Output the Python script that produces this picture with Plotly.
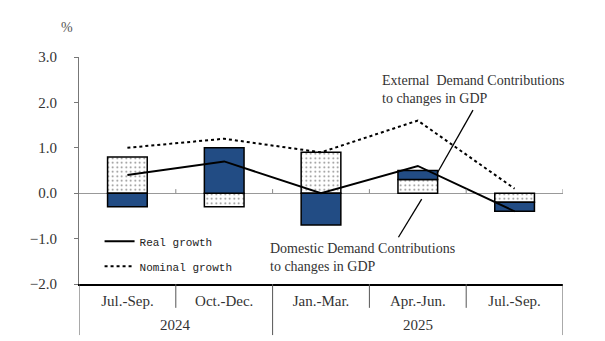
import plotly.graph_objects as go

quarters = ["Jul.-Sep.", "Oct.-Dec.", "Jan.-Mar.", "Apr.-Jun.", "Jul.-Sep."]
years = ["2024", "2025"]
year_spans = [(0, 1), (2, 4)]

domestic = [0.8, -0.3, 0.9, 0.3, -0.2]
external = [-0.3, 1.0, -0.7, 0.2, -0.2]
real_growth = [0.4, 0.7, 0.0, 0.6, -0.4]
nominal_growth = [1.0, 1.2, 0.9, 1.6, 0.1]

y_ticks = [3.0, 2.0, 1.0, 0.0, -1.0, -2.0]

BLUE = "#224C84"
LABEL_FONT = dict(family="Liberation Serif", size=15, color="#333333")
NOTE_FONT = dict(family="Liberation Serif", size=14, color="#333333")

x = list(range(len(quarters)))

fig = go.Figure()
fig.add_trace(go.Bar(
    x=x, y=domestic, width=0.41, showlegend=False,
    marker=dict(color="white", line=dict(color="black", width=1.5),
                pattern=dict(shape=".", fgcolor="black", bgcolor="white",
                             size=4.5, solidity=0.12)),
))
fig.add_trace(go.Bar(
    x=x, y=external, width=0.41, showlegend=False,
    marker=dict(color=BLUE, line=dict(color="black", width=1.5)),
))
fig.add_trace(go.Scatter(
    x=x, y=real_growth, mode="lines", name="Real growth",
    line=dict(color="black", width=2), legendgroup="a",
))
fig.add_trace(go.Scatter(
    x=x, y=nominal_growth, mode="lines", name="Nominal growth",
    line=dict(color="black", width=2, dash="dot"), legendgroup="b",
))

# small ticks on the zero line at category boundaries
for b in [i + 0.5 for i in x]:
    fig.add_shape(type="line", xref="x", yref="y", x0=b, x1=b, y0=0, y1=0.09,
                  line=dict(color="#888888", width=1))

# category separators below the axis
bounds = [-0.5] + [i + 0.5 for i in x]
year_edges = {-0.5, 1.5, 4.5}
for b in bounds:
    fig.add_shape(type="line", xref="x", yref="paper", x0=b, x1=b, y0=0,
                  y1=-0.225 if b in year_edges else -0.105,
                  line=dict(color="#555555", width=1))

for name, (a, b) in zip(years, year_spans):
    fig.add_annotation(x=(a + b) / 2, y=-0.18, xref="x", yref="paper",
                       text=name, showarrow=False, font=LABEL_FONT, yanchor="middle")

fig.add_annotation(x=-0.041, y=1.128, xref="paper", yref="paper", text="%",
                   showarrow=False, yanchor="middle",
                   font=dict(family="Liberation Serif", size=14, color="#555555"))

# pointer lines for the two notes
fig.add_shape(type="line", xref="x", yref="y", x0=3.57, y0=1.83, x1=3.20, y1=0.44,
              line=dict(color="black", width=1.3))
fig.add_shape(type="line", xref="x", yref="y", x0=2.80, y0=-0.97, x1=3.04, y1=-0.13,
              line=dict(color="black", width=1.3))

fig.add_annotation(
    x=2.61, y=2.28, xref="x", yref="y", xanchor="left", yanchor="middle",
    text="External  Demand Contributions<br>to changes in GDP", align="left",
    showarrow=False, font=NOTE_FONT,
)
fig.add_annotation(
    x=1.45, y=-1.41, xref="x", yref="y", xanchor="left", yanchor="middle",
    text="Domestic Demand Contributions<br>to changes in GDP", align="left",
    showarrow=False, font=NOTE_FONT,
)

# the page adds an 8px body margin, so the figure is drawn 8px smaller
fig.update_layout(
    width=597, height=333,
    margin=dict(l=71, r=42, t=49, b=57),
    paper_bgcolor="white", plot_bgcolor="white",
    barmode="relative",
    legend=dict(x=0.0425, y=0.252, xanchor="left", yanchor="top",
                font=dict(family="Liberation Mono", size=11, color="#222222"),
                bgcolor="rgba(0,0,0,0)", tracegroupgap=6, traceorder="grouped",
                itemwidth=30),
    xaxis=dict(range=[-0.5, 4.5], tickvals=x, ticktext=quarters, ticks="",
               showline=True, linecolor="black", linewidth=2, showgrid=False,
               zeroline=False, tickfont=LABEL_FONT, ticklabelstandoff=2,
               automargin=False),
    yaxis=dict(range=[-2, 3], tickvals=y_ticks, tickformat=".1f", ticks="outside",
               ticklen=4, tickcolor="#777777", showline=True, linecolor="#777777",
               linewidth=1, showgrid=False, zeroline=True, zerolinecolor="#999999",
               zerolinewidth=1, tickfont=LABEL_FONT, ticklabelstandoff=14,
               automargin=False),
)

fig.write_html("out.html")
